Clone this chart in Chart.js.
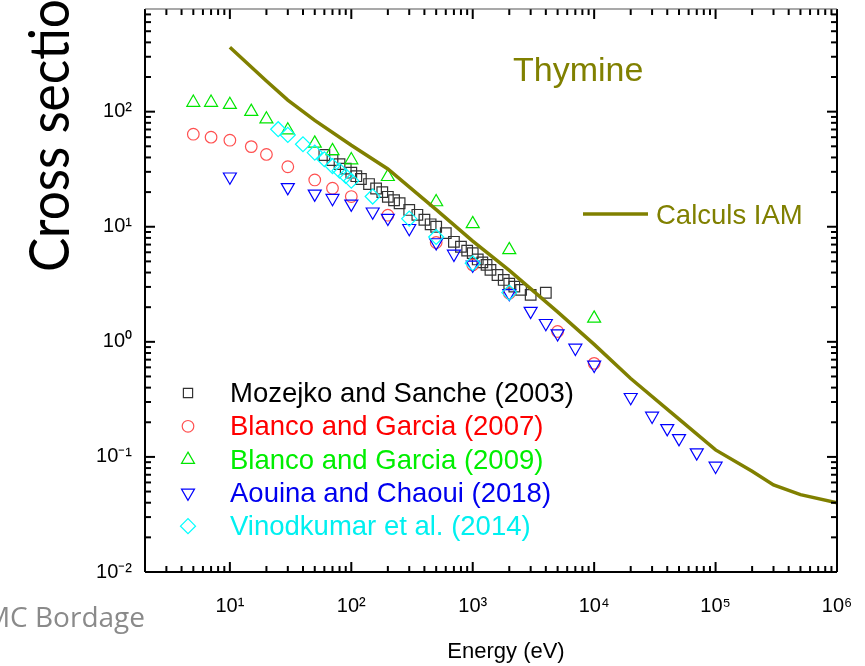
<!DOCTYPE html>
<html>
<head>
<meta charset="utf-8">
<script src="https://cdn.jsdelivr.net/npm/chart.js@4.4.0/dist/chart.umd.min.js"></script>
<style>
  body { margin: 0; background: #fff; }
</style>
</head>
<body>
<canvas id="grafico" width="865" height="666"></canvas>
<script>
// Mozejko and Sanche (2003)
const mozejkoE = [60, 70, 80, 90, 100, 110, 120, 140, 160, 180, 200, 225, 250, 300, 350, 400, 450, 500, 600, 700, 800, 900, 1000, 1100, 1200, 1300, 1400, 1600, 1800, 2000, 2200, 2500, 3000, 4000]
const mozejkoS = [42, 38, 35, 32, 29.5, 27.5, 26, 23.5, 21.5, 20, 18.2, 17, 16, 14, 12.7, 11.5, 10.5, 10.0, 8.8, 7.4, 6.7, 6.2, 5.9, 5.2, 4.9, 4.66, 4.22, 3.81, 3.45, 3.2, 3.02, 2.83, 2.56, 2.67]

// Blanco and Garcia (2007)
const blanco07E = [5, 7, 10, 15, 20, 30, 50, 70, 100, 200, 500, 1000, 2000, 5000, 10000]
const blanco07S = [63.7, 60, 56.5, 49.7, 42.5, 33.2, 25.5, 21.6, 18.3, 12.6, 7.3, 4.66, 2.64, 1.23, 0.65]

// Blanco and Garcia (2009)
const blanco09E = [5, 7, 10, 15, 20, 30, 50, 70, 100, 200, 500, 1000, 2000, 10000]
const blanco09S = [120, 120, 115, 100, 86, 69, 53, 45.6, 38, 27.2, 16.4, 10.6, 6.3, 1.6]

// Aouina and Chaoui (2018)
const aouinaE = [10, 30, 50, 70, 100, 150, 200, 300, 500, 700, 1000, 2000, 3000, 4000, 5000, 7000, 10000, 20000, 30000, 40000, 50000, 70000, 100000]
const aouinaS = [27.2, 22, 19.3, 17.7, 15.8, 13.5, 11.9, 9.7, 7.3, 5.8, 4.66, 2.64, 1.85, 1.45, 1.18, 0.885, 0.63, 0.33, 0.227, 0.177, 0.145, 0.109, 0.0835]

// Vinodkumar et al. (2014)
const vinodE = [25, 30, 40, 50, 60, 70, 80, 90, 100, 150, 300, 500, 1000, 2000]
const vinodS = [70.4, 62.8, 52.1, 44.1, 38.6, 33.7, 30.7, 27.6, 25.1, 18.3, 11.75, 8.15, 4.82, 2.68]

// Calculs IAM
const iamE = [10, 20, 30, 50, 100, 200, 500, 1000, 2000, 5000, 10000, 20000, 50000, 100000, 200000, 300000, 500000, 1000000]
const iamS = [363, 185, 126, 84, 51, 31.8, 14.1, 7.5, 4.17, 1.82, 0.95, 0.48, 0.213, 0.115, 0.075, 0.057, 0.047, 0.040]

const xTicks = [10, 100, 1000, 10000, 100000, 1000000]
const xTickLabels = ['10¹', '10²', '10³', '10⁴', '10⁵', '10⁶']
const yTicks = [0.01, 0.1, 1, 10, 100]
const yTickLabels = ['10⁻²', '10⁻¹', '10⁰', '10¹', '10²']

function pontos(xs, ys) {
    return xs.map((x, i) => ({ x: x, y: ys[i] }))
}

function serie(label, xs, ys, cor, corTexto, estilo, raio, rotacao, ordem) {
    return {
        label: label,
        data: pontos(xs, ys),
        showLine: false,
        pointStyle: estilo,
        pointRadius: raio,
        pointRotation: rotacao,
        pointBorderWidth: 1.2,
        pointBorderColor: cor,
        pointBackgroundColor: 'rgba(0,0,0,0)',
        corTexto: corTexto,
        order: ordem
    }
}

const fonte = 'Liberation Sans, Arial, sans-serif'

const moldura = {
    id: 'moldura',
    afterDatasetsDraw(chart) {
        const { ctx, chartArea: a, scales: { x, y } } = chart
        ctx.save()
        ctx.strokeStyle = '#000'
        ctx.lineWidth = 2
        const traco = (x1, y1, x2, y2) => {
            ctx.beginPath(); ctx.moveTo(x1, y1); ctx.lineTo(x2, y2); ctx.stroke()
        }
        for (let d = 0; d <= 6; d++) {
            for (let m = 1; m <= 9; m++) {
                const v = m * Math.pow(10, d)
                if (v < x.min || v > x.max) continue
                const px = x.getPixelForValue(v)
                const len = m === 1 ? 10 : 6
                traco(px, a.bottom, px, a.bottom - len)
                traco(px, a.top, px, a.top + len)
            }
        }
        for (let d = -2; d <= 2; d++) {
            for (let m = 1; m <= 9; m++) {
                const v = m * Math.pow(10, d)
                if (v < y.min || v > y.max) continue
                const py = y.getPixelForValue(v)
                const len = m === 1 ? 10 : 6
                traco(a.left, py, a.left + len, py)
                traco(a.right, py, a.right - len, py)
            }
        }
        traco(a.left, a.bottom, a.right, a.bottom)
        traco(a.left, a.top, a.left, a.bottom)
        traco(a.right, a.top, a.right, a.bottom)
        ctx.strokeStyle = '#555'
        ctx.lineWidth = 1.2
        traco(a.left, a.top, a.right, a.top)
        ctx.restore()
    }
}

const textos = {
    id: 'textos',
    afterDraw(chart) {
        const ctx = chart.ctx
        ctx.save()

        // titulo do eixo y (cortado no topo, como no original)
        ctx.save()
        ctx.translate(69, 272)
        ctx.rotate(-Math.PI / 2)
        ctx.scale(0.9, 1)
        ctx.fillStyle = '#000'
        ctx.font = '57px Lato'
        ctx.textAlign = 'left'
        ctx.textBaseline = 'alphabetic'
        ctx.fillText('Cross section (Å²)', 0, 0)
        ctx.restore()

        ctx.fillStyle = '#000'
        ctx.font = '22px ' + fonte
        ctx.textAlign = 'center'
        ctx.textBaseline = 'alphabetic'
        ctx.fillText('Energy (eV)', 506, 658)

        ctx.fillStyle = '#8a8a8a'
        ctx.font = '28px "Open Sans"'
        ctx.textAlign = 'right'
        ctx.fillText('MC Bordage', 145, 627)

        ctx.fillStyle = '#808000'
        ctx.font = '34px ' + fonte
        ctx.textAlign = 'left'
        ctx.fillText('Thymine', 513, 81)

        // legenda
        const sets = chart.data.datasets
        let linhaY = 393
        sets.forEach((ds) => {
            if (ds.showLine) {
                ctx.strokeStyle = ds.borderColor
                ctx.lineWidth = ds.borderWidth
                ctx.beginPath(); ctx.moveTo(583, 214); ctx.lineTo(648, 214); ctx.stroke()
                ctx.fillStyle = ds.corTexto
                ctx.font = '27.5px ' + fonte
                ctx.fillText(ds.label, 656, 224)
                return
            }
            ctx.strokeStyle = ds.pointBorderColor
            ctx.fillStyle = 'rgba(0,0,0,0)'
            ctx.lineWidth = 1.2
            Chart.helpers.drawPoint(ctx, {
                pointStyle: ds.pointStyle,
                radius: ds.pointStyle === 'rect' ? 6.5 : ds.pointRadius,
                rotation: ds.pointRotation,
                borderWidth: 1.2
            }, 188, linhaY)
            ctx.fillStyle = ds.corTexto
            ctx.font = '27.5px ' + fonte
            ctx.fillText(ds.label, 230, linhaY + 9)
            linhaY += 33.3
        })
        ctx.restore()
    }
}

const grafico = document.getElementById('grafico')

new Chart(grafico, {
    type: 'scatter',
    data: {
        datasets: [
            serie('Mozejko and Sanche (2003)', mozejkoE, mozejkoS, '#333333', '#000000', 'rect', 7.5, 0, 6),
            serie('Blanco and Garcia (2007)', blanco07E, blanco07S, '#ff5050', '#ff0000', 'circle', 5.8, 0, 5),
            serie('Blanco and Garcia (2009)', blanco09E, blanco09S, '#00e600', '#00ee00', 'triangle', 7.5, 0, 4),
            serie('Aouina and Chaoui (2018)', aouinaE, aouinaS, '#0000ff', '#0000ee', 'triangle', 7.5, 180, 3),
            serie('Vinodkumar et al. (2014)', vinodE, vinodS, '#00ffff', '#00f0f0', 'rectRot', 7.5, 0, 2),
            {
                label: 'Calculs IAM',
                data: pontos(iamE, iamS),
                showLine: true,
                borderColor: '#808000',
                borderWidth: 3.5,
                pointRadius: 0,
                tension: 0,
                corTexto: '#808000',
                order: 1
            }
        ]
    },
    options: {
        responsive: false,
        animation: false,
        layout: { padding: { left: 0, top: 9, right: 28, bottom: 0 } },
        plugins: {
            legend: { display: false },
            tooltip: { enabled: false }
        },
        scales: {
            x: {
                type: 'logarithmic',
                min: 2,
                max: 1000000,
                grid: { display: false, drawTicks: false },
                border: { display: false },
                afterBuildTicks: (scale) => { scale.ticks = xTicks.map((v) => ({ value: v })) },
                afterFit: (scale) => {
                    scale.height = 94
                    scale.paddingLeft = 0
                    scale.paddingRight = 0
                },
                ticks: {
                    autoSkip: false,
                    maxRotation: 0,
                    padding: 22,
                    color: '#000',
                    font: { family: fonte, size: 20 },
                    callback: (v, i) => xTickLabels[i]
                }
            },
            y: {
                type: 'logarithmic',
                min: 0.01,
                max: 780,
                grid: { display: false, drawTicks: false },
                border: { display: false },
                afterBuildTicks: (scale) => { scale.ticks = yTicks.map((v) => ({ value: v })) },
                afterFit: (scale) => {
                    scale.width = 145
                    scale.paddingTop = 0
                    scale.paddingBottom = 0
                },
                ticks: {
                    autoSkip: false,
                    padding: 13,
                    color: '#000',
                    font: { family: fonte, size: 20 },
                    callback: (v, i) => yTickLabels[i]
                }
            }
        }
    },
    plugins: [moldura, textos]
})
</script>
</body>
</html>
